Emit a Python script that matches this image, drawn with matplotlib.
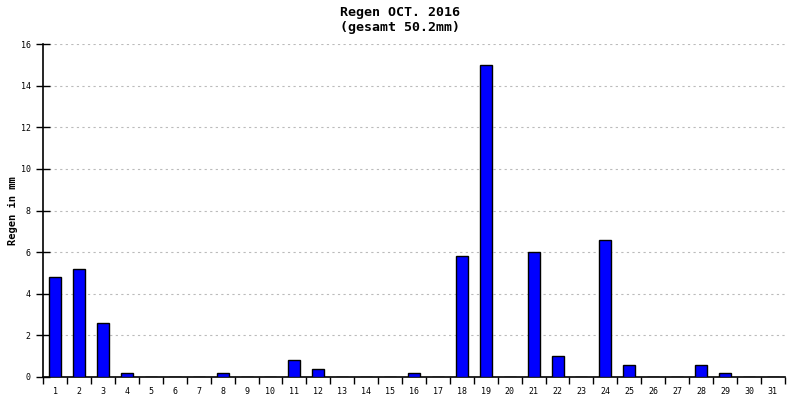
import matplotlib
matplotlib.use("Agg")
import matplotlib.pyplot as plt
import numpy as np

days = list(range(1, 32))
rain = [4.8, 5.2, 2.6, 0.2, 0, 0, 0, 0.2, 0, 0, 0.8, 0.4, 0, 0, 0, 0.2,
        0, 5.8, 15.0, 0, 6.0, 1.0, 0, 6.6, 0.6, 0, 0, 0.6, 0.2, 0, 0]
yticks = [0, 2, 4, 6, 8, 10, 12, 14, 16]

plt.rcParams['font.family'] = ['DejaVu Sans Mono']

fig = plt.figure(figsize=(8, 4), dpi=100)
ax = fig.add_axes([0.054, 0.0575, 0.927, 0.8325])

x = np.arange(len(days))
ax.bar(x, rain, width=0.5, color='#0000ff', edgecolor='black', linewidth=1, zorder=3)

ax.set_xlim(-0.5, len(days) - 0.5)
ax.set_ylim(0, 16)
ax.set_yticks(yticks)
ax.set_yticklabels([str(v) for v in yticks], fontsize=6)
ax.yaxis.grid(True, linestyle=(0, (2, 3)), color='#bbbbbb', linewidth=0.8, zorder=0)

# ticks at boundaries, labels at centers
ax.set_xticks(np.arange(-0.5, len(days) + 0.5, 1))
ax.set_xticklabels([])
ax.set_xticks(x, minor=True)
ax.set_xticklabels([str(d) for d in days], minor=True, fontsize=6)
ax.tick_params(axis='x', which='major', direction='out', length=5, width=1)
ax.tick_params(axis='x', which='minor', length=0, pad=7)
ax.tick_params(axis='y', direction='inout', length=10, width=1, pad=4)

for s in ['top', 'right']:
    ax.spines[s].set_visible(False)
ax.spines['left'].set_linewidth(1.2)
ax.spines['bottom'].set_linewidth(1.2)

ax.set_ylabel('Regen in mm', fontsize=7.5, fontweight='bold')
ax.yaxis.set_label_coords(-0.034, 0.5)
fig.suptitle('Regen OCT. 2016\n(gesamt 50.2mm)', fontsize=9.5, fontweight='bold', y=0.985)

fig.savefig('out.png', dpi=100)
